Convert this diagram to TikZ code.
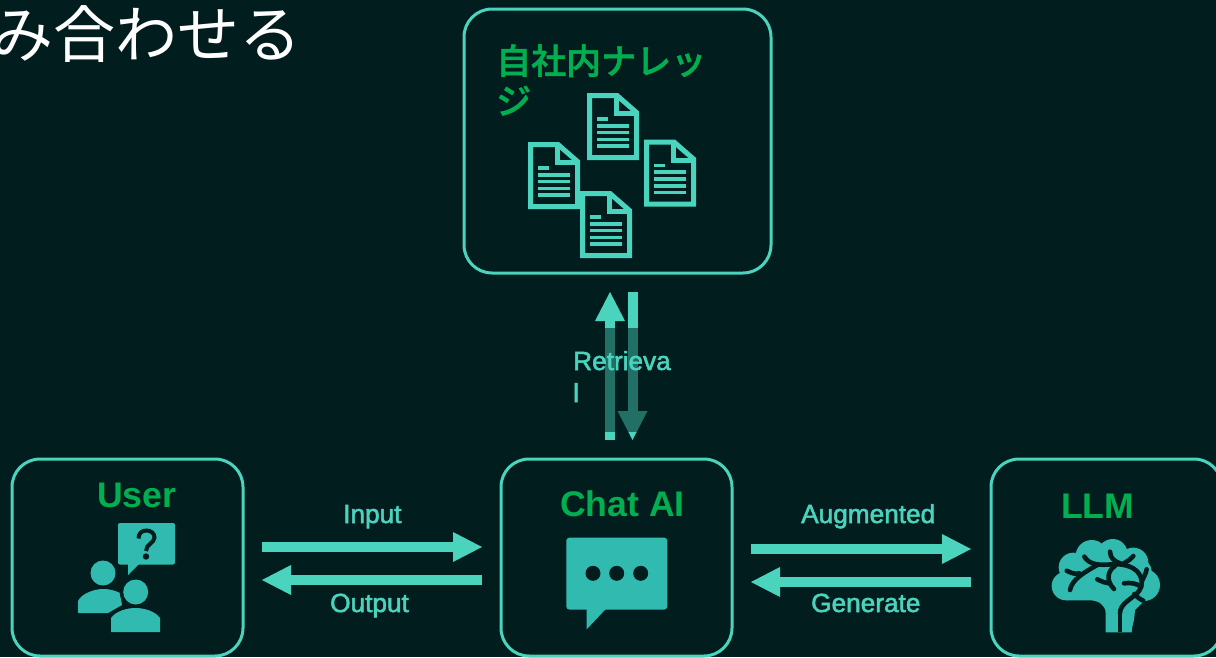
\documentclass[tikz,border=0pt]{standalone}
\usepackage{fontspec}
\usetikzlibrary{arrows.meta}
\setmainfont{Liberation Sans}
\newfontfamily\lblfont[FakeBold=2]{Liberation Sans}
\newfontfamily\jpfont{Noto Sans CJK JP}
\newfontfamily\jpmed[FakeBold=1.5]{Noto Sans CJK JP Medium}
\definecolor{bgc}{HTML}{021D1D}
\definecolor{linec}{HTML}{4AD4BE}
\definecolor{iconc}{HTML}{31BBB0}
\definecolor{headc}{HTML}{00B050}
\tikzset{
  panel/.style={draw=linec,line width=3pt,fill=bgc,rounded corners=28pt,outer sep=0pt,inner sep=0pt},
  flow/.style={draw=linec,line width=10pt,-{Triangle[length=29pt,width=30pt,line width=0pt]}},
  lbl/.style={text=linec,anchor=base west,inner sep=0pt,font=\lblfont\fontsize{26.2}{26.2}\selectfont},
  head/.style={text=headc,anchor=base west,inner sep=0pt,font=\bfseries\fontsize{35.6}{35.6}\selectfont},
  jphead/.style={text=headc,anchor=base west,inner sep=0pt,font=\jpmed\fontsize{35}{35}\selectfont},
  docline/.style={draw=linec,line width=5pt,miter limit=4},
  docbar/.style={fill=linec},
  ico/.style={fill=iconc,draw=none},
  vein/.style={draw=bgc,line width=4.6pt,line cap=round,line join=round},
}
\begin{document}
\begin{tikzpicture}[x=1pt,y=-1pt]
\useasboundingbox (0,0) rectangle (1216,657);
\clip (0,0) rectangle (1216,657);
\fill[bgc] (0,0) rectangle (1216,657);
% title
\node[anchor=base west,inner sep=0pt,text=white,font=\jpfont\fontsize{62}{62}\selectfont] (title) at (-9,57) {み合わせる};
% panels
\node[panel,minimum width=307pt,minimum height=264pt] (know) at (617.5,141) {};
\node[panel,minimum width=231pt,minimum height=197pt] (user) at (127.5,557.5) {};
\node[panel,minimum width=231pt,minimum height=197pt] (chat) at (616.5,557.5) {};
\node[panel,minimum width=231pt,minimum height=197pt] (llm) at (1106.5,557.5) {};
% headings
\node[jphead] (knowa) at (496,74) {自社内ナレッ};
\node[jphead] (knowb) at (496,114) {ジ};
\node[head] (usert) at (97,507) {User};
\node[head] (chatt) at (560,516) {Chat AI};
\node[head] (llmt) at (1061,518) {LLM};
% arrows
\draw[flow] ([shift={(19,-10.5)}]user.east) -- ([shift={(-19,-10.5)}]chat.west);
\draw[flow] ([shift={(-19,22.5)}]chat.west) -- ([shift={(19,22.5)}]user.east);
\draw[flow] ([shift={(19,-8.5)}]chat.east) -- ([shift={(-20,-8.5)}]llm.west);
\draw[flow] ([shift={(-20,24.5)}]llm.west) -- ([shift={(19,24.5)}]chat.east);
\draw[flow] ([shift={(-6.5,-19)}]chat.north) -- ([shift={(-7.5,19)}]know.south);
\draw[flow] ([shift={(15,19)}]know.south) -- ([shift={(16,-19)}]chat.north);
\fill[bgc,opacity=.55] (594,328) rectangle (652,432);
% labels
\node[lbl] (inp) at (343,523) {Input};
\node[lbl] (outp) at (330,612) {Output};
\node[lbl] (aug) at (801,523) {Augmented};
\node[lbl] (gen) at (811,612) {Generate};
\node[lbl] (reta) at (573,370) {Retrieva};
\node[lbl] (retb) at (573,402) {l};
% documents
\foreach \dx/\dy in {587/93,528/142,644/139.5,580/191}{
\begin{scope}[shift={(\dx,\dy)}]
\draw[docline] (2.5,2.5) -- (30,2.5) -- (49.5,19.5) -- (49.5,64.5) -- (2.5,64.5) -- cycle;
\draw[docline] (29,2) -- (29,20.5) -- (50,20.5);
\fill[docbar] (9.7,24) rectangle (21,27.7);
\foreach \ly in {30.9,37.6,44.5,51}{\fill[docbar] (9.7,\ly) rectangle (41.7,\ly+3.8);}
\end{scope}}
% user icon
\fill[ico,rounded corners=2pt] (118,523) rectangle (175,564.5);
\fill[ico] (128,563) -- (128,575) -- (140,563) -- cycle;
\draw[bgc,line width=4pt] (138.5,538.5) .. controls (138.5,533) and (142,530.5) .. (146.5,530.5) .. controls (151,530.5) and (154.5,533.5) .. (154.5,537.5) .. controls (154.5,543) and (146,544) .. (146,551);
\fill[bgc] (146,556.5) circle (3.2pt);
\fill[ico] (103,573) circle (12.5pt);
\fill[ico] (78,613) -- (78,601) .. controls (82,593) and (95,589) .. (103,589) .. controls (109,589) and (114,590) .. (120,593) -- (122,605) -- (108,613) -- cycle;
\fill[bgc] (135.7,592) circle (16pt);
\fill[ico] (135.7,592) circle (12.5pt);
\fill[ico] (111,632) -- (111,618) .. controls (116,611) and (127,608) .. (135.5,608) .. controls (144,608) and (155,611) .. (160,618) -- (160,632) -- cycle;
% chat icon
\fill[ico,rounded corners=3pt] (566.3,537.7) rectangle (667.3,609.5);
\fill[ico] (586.7,608) -- (586.7,629.3) -- (606.7,608) -- cycle;
\foreach \cx in {593,616.7,640.7}{\fill[bgc] (\cx,573.3) circle (7.5pt);}
% brain icon
\begin{scope}[shift={(1040,530)},x=0.3333pt,y=-0.3333pt]
\fill[ico] (78,168) circle (43);
\fill[ico] (100,112) circle (44);
\fill[ico] (155,78) circle (48);
\fill[ico] (218,72) circle (45);
\fill[ico] (280,98) circle (45);
\fill[ico] (295,125) circle (40);
\fill[ico] (312,165) circle (48);
\fill[ico] (80,120) -- (300,90) -- (335,190) -- (285,240) -- (283,262) .. controls (281,280) and (275,290) .. (275,307) -- (197,307) -- (197,250) .. controls (197,225) and (175,211) .. (150,211) -- (80,211) -- cycle;
\draw[vein,line cap=butt] (240,307) -- (240,250);
\draw[vein] (240,250) .. controls (240,225) and (265,212) .. (285,195) .. controls (305,180) and (310,160) .. (302,140) .. controls (290,112) and (255,100) .. (215,103) .. controls (180,106) and (148,105) .. (133,80);
\draw[vein] (210,65) .. controls (210,85) and (225,95) .. (243,101);
\draw[vein] (280,78) .. controls (270,90) and (260,95) .. (250,101);
\draw[vein] (320,118) .. controls (318,130) and (312,140) .. (306,152);
\draw[vein] (80,122) .. controls (95,130) and (105,133) .. (118,130);
\draw[vein] (90,180) .. controls (95,150) and (130,128) .. (172,105);
\draw[vein] (225,108) .. controls (205,120) and (195,150) .. (222,177);
\draw[vein] (172,148) .. controls (185,155) and (195,158) .. (208,160);
\draw[vein] (252,160) .. controls (270,157) and (290,160) .. (303,170);
\draw[vein] (283,192) .. controls (290,200) and (300,208) .. (310,212);
\end{scope}
\end{tikzpicture}
\end{document}
